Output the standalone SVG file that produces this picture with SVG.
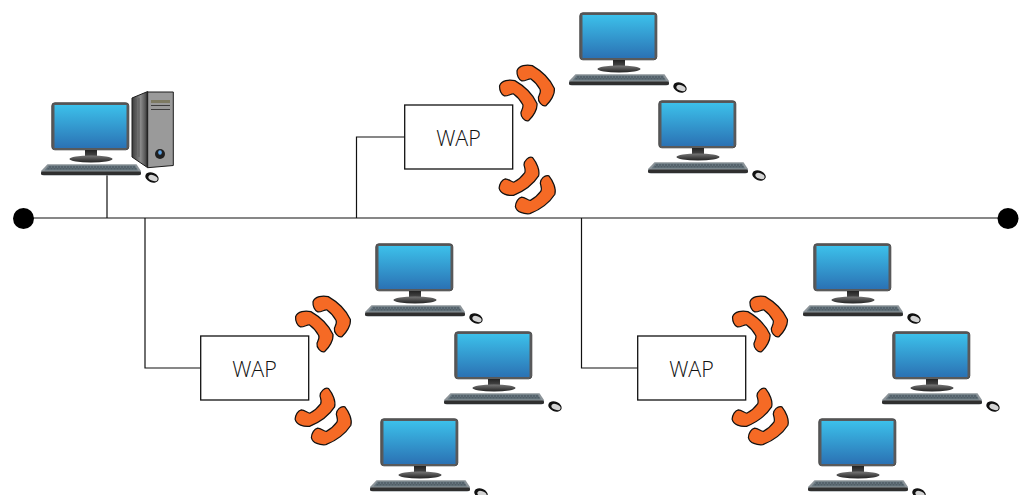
<svg xmlns="http://www.w3.org/2000/svg" width="1022" height="495" viewBox="0 0 1022 495">
<style>
.ln{fill:none;stroke:#111;stroke-width:1.200}
.wap{fill:#fff;stroke:#111;stroke-width:1.300}
.t{font-family:"Open Sans","Noto Sans",sans-serif;font-weight:300;font-size:21.500px;fill:#111;text-anchor:middle}
.dot{fill:#000}
.ph{fill:#f56a25;stroke:#111;stroke-width:3.600;stroke-linejoin:round}
</style>
<defs>
<linearGradient id="sc" x1="0" y1="0" x2="0" y2="1"><stop offset="0" stop-color="#3cc0ea"/><stop offset="1" stop-color="#2b72b4"/></linearGradient>
<linearGradient id="st" x1="0" y1="0" x2="0" y2="1"><stop offset="0" stop-color="#222"/><stop offset="1" stop-color="#5a5a5a"/></linearGradient>
<linearGradient id="bs" x1="0" y1="0" x2="0" y2="1"><stop offset="0" stop-color="#777"/><stop offset="1" stop-color="#222"/></linearGradient>
<linearGradient id="sd" x1="0" y1="0" x2="1" y2="0"><stop offset="0" stop-color="#3a3a3a"/><stop offset=".55" stop-color="#8a8a8a"/><stop offset=".85" stop-color="#555"/><stop offset="1" stop-color="#1c1c1c"/></linearGradient>
<g id="pc">
<rect x="0.800" y="0.800" width="77" height="47" rx="3" fill="#58595b" stroke="#4a4a4a" stroke-width="1"/>
<rect x="3.500" y="3" width="72" height="43" fill="url(#sc)"/>
<rect x="34" y="48" width="12" height="9" fill="url(#st)"/>
<ellipse cx="40" cy="57" rx="21.500" ry="3.500" fill="url(#bs)"/>
<path d="M-3.500 62.300H85.500L90 69Q90.500 73.500 87 73.500H-7Q-10.500 73.500 -10 69Z" fill="#8c9499"/>
<path d="M-2.500 63.500H84L87 68.500H-6.500Z" fill="#66767f"/>
<path d="M-2 65H84M-3.500 66.800H85.500" stroke="#39434a" stroke-width=".7" stroke-dasharray="2 1" fill="none"/>
<rect x="-10" y="69.500" width="100" height="3.500" rx="1.500" fill="#2f2f2f"/>
<ellipse cx="101" cy="75.500" rx="7" ry="4.800" transform="rotate(22 101 75.500)" fill="#111"/>
<ellipse cx="102" cy="76" rx="4.800" ry="2.800" transform="rotate(22 102 76)" fill="#d4d4d4"/>
</g>
<g id="phone" transform="scale(.34)">
<path class="ph" d="M-55 -44C-49 -60 -27 -63 -10 -59C16 -44 42 -20 55 8C57 25 44 46 30 59C18 62 6 46 8 34C11 26 16 18 13 11C6 -2 -4 -13 -14 -20C-20 -22 -30 -13 -41 -14C-50 -17 -56 -31 -55 -44Z"/>
</g>
<g id="phU"><use href="#phone" transform="translate(535.700 85.700)"/><use href="#phone" transform="translate(518.300 100.700)"/></g>
<g id="phD"><use href="#phone" transform="translate(519.700 176) rotate(8) scale(1 -1)"/><use href="#phone" transform="translate(536 194.300) rotate(8) scale(1 -1)"/></g>
</defs>
<rect width="1022" height="495" fill="#fff"/>
<g id="connectors">
<path class="ln" d="M23 218H1008M107 172V218M356.500 218V137H405M145 218V368H201M581.500 218V368H638"/>
<circle class="dot" cx="23.500" cy="218.500" r="10.500"/>
<circle class="dot" cx="1008" cy="218.500" r="10.500"/>
</g>
<g id="server">
<use href="#pc" transform="translate(51 102)"/>
<path d="M132 98L147.700 91.500V167.700L132 157Z" fill="url(#sd)" stroke="#1c1c1c" stroke-width="1"/>
<path d="M136 99V155M139 98V157" stroke="#555" stroke-width=".8"/>
<path d="M147.700 92H173.300V165.500L147.700 167.700Z" fill="#9a9a9a" stroke="#1c1c1c" stroke-width="1"/>
<rect x="151" y="100" width="19" height="3" fill="#7d7a62"/>
<path d="M151 105.500H170M151 109.500H170" stroke="#333" stroke-width=".9"/>
<circle cx="160" cy="154" r="5" fill="#1f1f1f"/><ellipse cx="160" cy="152.500" rx="1.800" ry="2.200" fill="#5b9fe0"/>
</g>
<g id="wap-top">
<rect class="wap" x="404.700" y="105" width="108" height="64"/>
<text class="t" x="458.500" y="146">WAP</text>
<use href="#phU"/><use href="#phD"/>
</g>
<g id="wap-left" transform="translate(-204 231)">
<rect class="wap" x="404.700" y="105" width="108" height="64"/>
<text class="t" x="458.500" y="146">WAP</text>
<use href="#phU"/><use href="#phD"/>
</g>
<g id="wap-right" transform="translate(233 231)">
<rect class="wap" x="404.700" y="105" width="108" height="64"/>
<text class="t" x="458.500" y="146">WAP</text>
<use href="#phU"/><use href="#phD"/>
</g>
<g id="pc-top-1"><use href="#pc" transform="translate(579 12)"/></g>
<g id="pc-top-2"><use href="#pc" transform="translate(658 100)"/></g>
<g id="pc-left-1"><use href="#pc" transform="translate(375 243)"/></g>
<g id="pc-left-2"><use href="#pc" transform="translate(454 331)"/></g>
<g id="pc-left-3"><use href="#pc" transform="translate(380 418)"/></g>
<g id="pc-right-1"><use href="#pc" transform="translate(813 243)"/></g>
<g id="pc-right-2"><use href="#pc" transform="translate(892 331)"/></g>
<g id="pc-right-3"><use href="#pc" transform="translate(818 418)"/></g>
</svg>
